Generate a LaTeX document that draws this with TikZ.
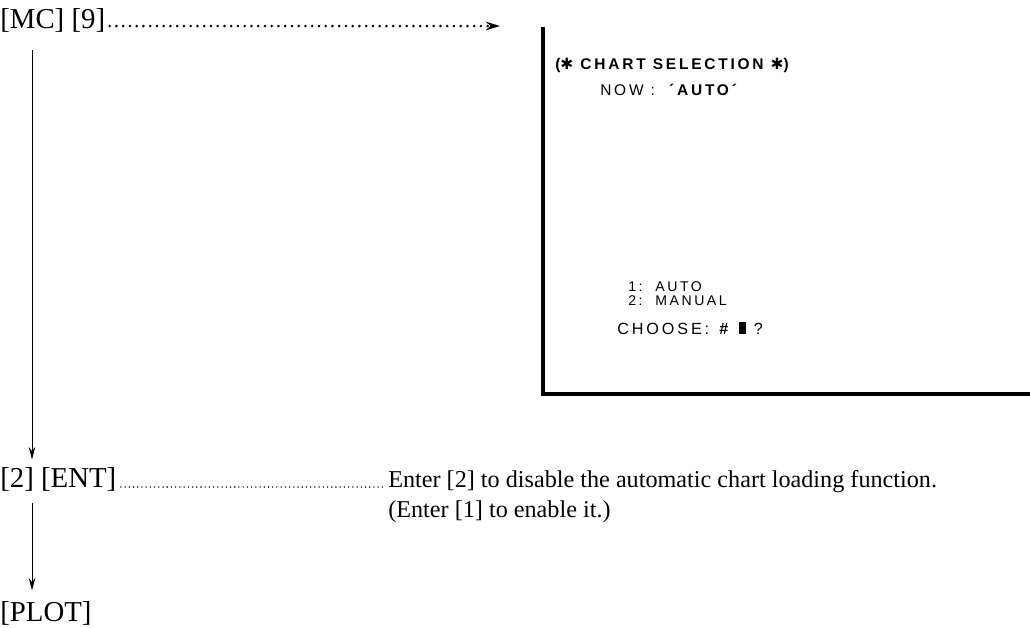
\documentclass[tikz,border=0pt]{standalone}
\usepackage{fontspec}
\setmainfont{Liberation Serif}
\newfontfamily\scrfont{Liberation Sans}[LetterSpace=18]
\newfontfamily\symfont{DejaVu Sans}
\usetikzlibrary{arrows.meta,positioning}

\begin{document}
\begin{tikzpicture}[x=0.025cm, y=-0.025cm,
    key/.style={anchor=base west, inner sep=0pt, font=\fontsize{20.5}{24}\selectfont},
    desc/.style={anchor=base west, inner sep=0pt, align=left, font=\fontsize{17.2}{21.3}\selectfont},
    scr/.style={anchor=base west, inner sep=0pt, font=\scrfont\fontsize{11}{13}\selectfont},
    scrsmall/.style={anchor=base west, inner sep=0pt, align=left, font=\scrfont\fontsize{10}{9.4}\selectfont},
    arr/.style={-{Stealth[length=9pt,width=4.5pt]}, line width=0.7pt},
    lead/.style={dash pattern=on 0pt off 4.8pt, line cap=round, line width=2pt},
    leadfine/.style={dash pattern=on 0pt off 3pt, line cap=round, line width=1.1pt}
]
\useasboundingbox (0,0) rectangle (1030,627);

% key sequence
\node[key] (mc) at (0,28) {[MC] [9]};
\node[key] (ent) at (0,487) {[2] [ENT]};
\node[key] (plot) at (0,621) {[PLOT]};
\node[desc] (desc) at (388,517) {Enter [2] to disable the automatic chart loading function.\\(Enter [1] to enable it.)};

% screen
\draw[line width=2.2pt] (543,27) -- (543,394) -- (1030,394);
\coordinate (scrtip) at (500,26);
\node[scr, font=\scrfont\bfseries\fontsize{11}{13}\selectfont] (title) at (555,69) {({\symfont ✱} CHART SELECTION {\symfont ✱})};
\node[scr] (now) at (600,95) {NOW\ :\ \ \textbf{´AUTO´}};
\node[scrsmall] (opts) at (628,305) {1:\ \ AUTO\\2:\ \ MANUAL};
\node[scr, font=\scrfont\fontsize{11.5}{13}\selectfont] (choose) at (617,334) {CHOOSE\,:\ \textbf{\#}\ \rule{5.5pt}{8.5pt}\ ?};

% connectors
\draw[lead, -{Stealth[length=10pt,width=6pt]}] ([xshift=3pt]mc.east |- scrtip) -- (scrtip);
\draw[leadfine] ([xshift=3pt]ent.base east) -- ([xshift=-2pt]ent.base east -| desc.west);
\draw[arr] ([shift={(32,18)}]mc.south west) -- ([shift={(32,-7)}]ent.north west);
\draw[arr] ([shift={(32,12)}]ent.south west) -- ([shift={(32,-10)}]plot.north west);
\end{tikzpicture}
\end{document}
